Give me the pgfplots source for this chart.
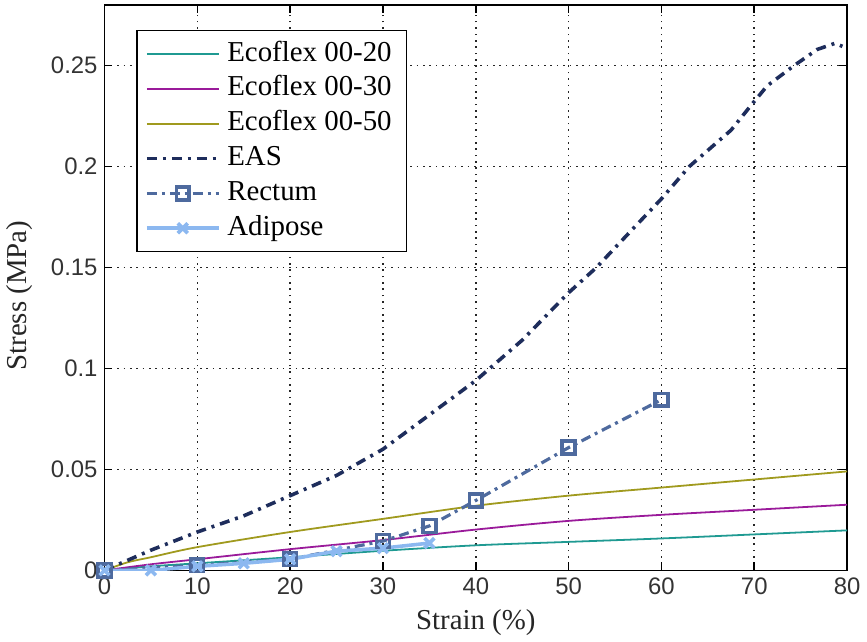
\documentclass[border=0pt]{standalone}
\usepackage{fontspec}
\setmainfont{Liberation Serif}
\newfontfamily\ticksf{Liberation Sans}
\usepackage{pgfplots}
\pgfplotsset{compat=1.18}
\definecolor{cteal}{HTML}{1F9A92}
\definecolor{cpurple}{HTML}{9A1A9A}
\definecolor{colive}{HTML}{A09A1E}
\definecolor{ceas}{HTML}{1E2D5C}
\definecolor{crect}{HTML}{4E6A9E}
\definecolor{cadip}{HTML}{8CB8F0}
\begin{document}
\begin{tikzpicture}
\begin{axis}[
  name=ax,
  scale only axis,
  width=373pt, height=284pt,
  xmin=0, xmax=80, ymin=0, ymax=0.28,
  xtick={0,10,...,80},
  ytick={0,0.05,0.1,0.15,0.2,0.25},
  yticklabels={0,0.05,0.1,0.15,0.2,0.25},
  xticklabels={0,10,20,30,40,50,60,70,80},
  ticklabel style={font=\ticksf\fontsize{12}{14}\selectfont, color=black!80},
  tick align=inside,
  major tick length=4pt,
  tick style={black, line width=0.8pt},
  axis line style={black, line width=0.8pt},
  grid=major,
  major grid style={black!85, line width=0.8pt, dash pattern=on 0.8pt off 2.4pt},
  xlabel={Strain (\%)},
  ylabel={Stress (MPa)},
  label style={font=\fontsize{14.5}{16}\selectfont, color=black!85},
  xlabel style={at={(axis description cs:0.5,0)}, anchor=center, yshift=-26pt},
  ylabel style={at={([xshift=-42.5pt,yshift=-4pt]axis description cs:0,0.5)}, anchor=center, rotate=0},
  legend cell align=left,
  legend style={at={(axis description cs:0.0429,0.956)}, anchor=north west,
    draw=black, line width=0.8pt, fill=white,
    font=\fontsize{14.5}{16}\selectfont,
    inner xsep=4pt, inner ysep=3pt,
    nodes={text height=9.5pt, text depth=2.5pt, inner ysep=2.75pt, inner xsep=3.5pt}},
  legend image code/.code={\draw[mark repeat=2,mark phase=2,#1] plot coordinates {(0pt,0pt) (18pt,0pt) (36pt,0pt)};},
]
\addplot[cteal, line width=0.9pt, smooth] coordinates {
(0,0) (5,0.002) (10,0.0035) (20,0.0065) (30,0.0097) (40,0.0124) (50,0.0141) (60,0.0158) (70,0.0178) (80,0.0198)};
\addlegendentry{Ecoflex 00-20}
\addplot[cpurple, line width=0.9pt, smooth] coordinates {
(0,0) (5,0.003) (10,0.0055) (20,0.0105) (30,0.015) (40,0.0202) (50,0.0245) (60,0.0275) (70,0.030) (80,0.0325)};
\addlegendentry{Ecoflex 00-30}
\addplot[colive, line width=0.9pt, smooth] coordinates {
(0,0) (2.5,0.004) (5,0.0065) (10,0.0115) (20,0.019) (30,0.0255) (40,0.032) (50,0.037) (60,0.041) (70,0.045) (80,0.049)};
\addlegendentry{Ecoflex 00-50}
\addplot[ceas, line width=1.8pt, dash pattern=on 5pt off 3pt on 1.5pt off 3pt] coordinates {
(0,0) (2,0.004) (5,0.01) (10,0.019) (15,0.027) (20,0.037) (25,0.047) (30,0.06) (35,0.077) (40,0.094) (45,0.114) (50,0.1375) (53,0.15) (57,0.1695) (60,0.184) (63,0.2) (67.5,0.218) (69.6,0.230) (71.4,0.240) (74.3,0.25) (76.8,0.258) (78.7,0.261) (79.5,0.2595)};
\addlegendentry{EAS}
\addplot[crect, line width=1.6pt, dash pattern=on 5pt off 2.5pt on 1.5pt off 2.5pt, mark=square, mark size=3.2pt, mark options={solid, line width=1.8pt, fill=white}] coordinates {
(0,0) (10,0.0025) (20,0.0055) (30,0.0145) (35,0.022) (40,0.0346) (50,0.0608) (60,0.0845)};
\addlegendentry{Rectum}
\addplot[cadip, line width=1.8pt, mark=x, mark size=3.5pt, mark options={solid, line width=1.8pt}] coordinates {
(0,0) (5,0) (10,0.002) (15,0.0035) (20,0.0055) (25,0.0095) (30,0.011) (35,0.0135)};
\addlegendentry{Adipose}
\end{axis}
\path (ax.south west) ++(-52.5pt,-34.5pt);
\path (ax.north east) ++(8pt,2.5pt);
\end{tikzpicture}
\end{document}
